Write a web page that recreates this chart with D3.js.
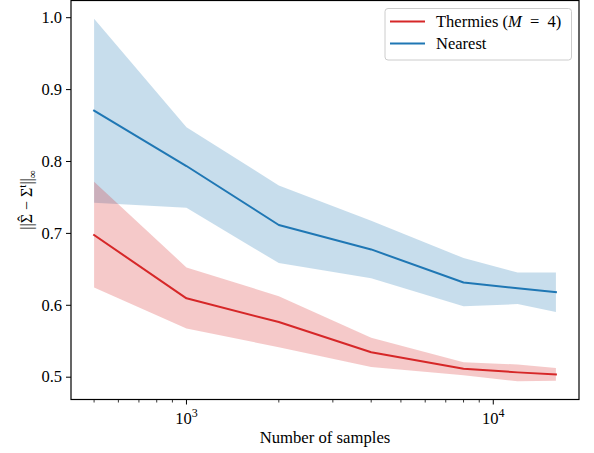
<!DOCTYPE html>
<html><head><meta charset="utf-8">
<script src="https://cdn.jsdelivr.net/npm/d3@7"></script>
<style>
html,body{margin:0;padding:0;background:#fff;}
text{font-family:"Liberation Serif","DejaVu Serif",serif;fill:#000;}
</style></head>
<body><svg id="c" width="594" height="453"></svg>
<script>
const samples = [500, 1000, 2000, 4000, 8000, 12000, 16000];
const thermiesMean  = [0.697, 0.609, 0.576, 0.534, 0.511, 0.506, 0.503];
const thermiesLower = [0.624, 0.567, 0.541, 0.5135, 0.502, 0.4935, 0.4945];
const thermiesUpper = [0.771, 0.652, 0.612, 0.554, 0.520, 0.517, 0.512];
const nearestMean   = [0.870, 0.793, 0.711, 0.677, 0.631, 0.623, 0.6175];
const nearestLower  = [0.742, 0.735, 0.658, 0.637, 0.598, 0.601, 0.590];
const nearestUpper  = [0.998, 0.847, 0.766, 0.717, 0.665, 0.645, 0.645];
const yTicks = [0.5, 0.6, 0.7, 0.8, 0.9, 1.0];
const xMajorTicks = [1000, 10000];
const xMajorExp = ["3", "4"];
const seriesNames = ["Thermies", "Nearest"];
const colors = ["#d62728", "#1f77b4"];

const svg = d3.select("#c");
const L = 71, R = 579, T = 0.5, B = 399.5;

const lx = samples.map(Math.log10);
const lspan = d3.max(lx) - d3.min(lx);
const x = d3.scaleLog()
  .domain([Math.pow(10, d3.min(lx) - 0.05 * lspan), Math.pow(10, d3.max(lx) + 0.05 * lspan)])
  .range([L, R]);
const allY = thermiesLower.concat(thermiesUpper, nearestLower, nearestUpper);
const ymin = d3.min(allY), ymax = d3.max(allY), yr = ymax - ymin;
const y = d3.scaleLinear().domain([ymin - 0.05 * yr, ymax + 0.05 * yr]).range([B, T]);

const series = [
  {mean: nearestMean, lo: nearestLower, hi: nearestUpper, color: colors[1]},
  {mean: thermiesMean, lo: thermiesLower, hi: thermiesUpper, color: colors[0]}
];
const area = d3.area().x(d => x(d.s)).y0(d => y(d.lo)).y1(d => y(d.hi));
const line = d3.line().x(d => x(d.s)).y(d => y(d.m));

series.forEach(s => {
  const pts = samples.map((v, i) => ({s: v, lo: s.lo[i], hi: s.hi[i], m: s.mean[i]}));
  svg.append("path").attr("d", area(pts)).attr("fill", s.color).attr("fill-opacity", 0.25);
});
series.forEach(s => {
  const pts = samples.map((v, i) => ({s: v, lo: s.lo[i], hi: s.hi[i], m: s.mean[i]}));
  svg.append("path").attr("d", line(pts)).attr("fill", "none").attr("stroke", s.color)
    .attr("stroke-width", 2).attr("stroke-linejoin", "round").attr("stroke-linecap", "square");
});

// frame
svg.append("rect").attr("x", L).attr("y", T).attr("width", R - L).attr("height", B - T)
  .attr("fill", "none").attr("stroke", "#000").attr("stroke-width", 1.2);

// y axis
const yAxis = d3.axisLeft(y).tickValues(yTicks).tickFormat(d3.format(".1f")).tickSize(5).tickPadding(4);
const gy = svg.append("g").attr("transform", `translate(${L},0)`).call(yAxis);
gy.select(".domain").remove();
gy.selectAll("line").attr("stroke", "#000").attr("stroke-width", 1);
gy.selectAll("text").style("font-size", "16.5px").style("font-family", '"Liberation Serif",serif');

// x axis
const minorTicks = [];
[100, 1000, 10000].forEach(b => { for (let k = 2; k <= 9; k++) { const v = b * k; if (v >= x.domain()[0] && v <= x.domain()[1]) minorTicks.push(v); } });
const gx = svg.append("g").attr("transform", `translate(0,${B})`);
gx.selectAll("line.minor").data(minorTicks).enter().append("line")
  .attr("x1", d => x(d)).attr("x2", d => x(d)).attr("y1", 0).attr("y2", 3).attr("stroke", "#000").attr("stroke-width", 0.8);
gx.selectAll("line.major").data(xMajorTicks).enter().append("line")
  .attr("x1", d => x(d)).attr("x2", d => x(d)).attr("y1", 0).attr("y2", 5).attr("stroke", "#000").attr("stroke-width", 1);
const xl = gx.selectAll("text.tl").data(xMajorTicks).enter().append("text")
  .attr("x", d => x(d)).attr("y", 24).attr("text-anchor", "middle").style("font-size", "16.5px");
xl.append("tspan").text("10");
xl.append("tspan").attr("dy", -7).style("font-size", "12px").text((d, i) => xMajorExp[i]);

svg.append("text").attr("x", (L + R) / 2).attr("y", 443).attr("text-anchor", "middle")
  .style("font-size", "16.7px").text("Number of samples");

// y label
const yl = svg.append("text").attr("transform", `translate(32,${(T + B) / 2}) rotate(-90)`)
  .attr("text-anchor", "middle").style("font-size", "16px");
yl.append("tspan").text("||Σ");
yl.append("tspan").attr("dx", -7.6).attr("dy", -3).text("ˆ");
yl.append("tspan").attr("dx", 2.2).attr("dy", 3).text(" − Σ");
yl.append("tspan").attr("dy", -6).style("font-size", "11px").text("t");
yl.append("tspan").attr("dy", 6).text("||");
yl.append("tspan").attr("dy", 4).style("font-size", "11px").text("∞");

// legend
const lg = svg.append("g");
lg.append("rect").attr("x", 385).attr("y", 8.5).attr("width", 186.5).attr("height", 51.5)
  .attr("rx", 3).attr("fill", "#fff").attr("fill-opacity", 0.8).attr("stroke", "#ccc").attr("stroke-width", 1);
const legendItems = [
  {color: colors[0], y: 21.5},
  {color: colors[1], y: 43.5}
];
legendItems.forEach((it, i) => {
  lg.append("line").attr("x1", 390).attr("x2", 425).attr("y1", it.y).attr("y2", it.y)
    .attr("stroke", it.color).attr("stroke-width", 2);
  const t = lg.append("text").attr("x", 436).attr("y", it.y + 5).style("font-size", "16.5px");
  if (i === 0) {
    t.append("tspan").text(seriesNames[0] + " (");
    t.append("tspan").style("font-style", "italic").text("M");
    t.append("tspan").attr("xml:space", "preserve").text("  =  4)");
  } else {
    t.text(seriesNames[1]);
  }
});
</script></body></html>
